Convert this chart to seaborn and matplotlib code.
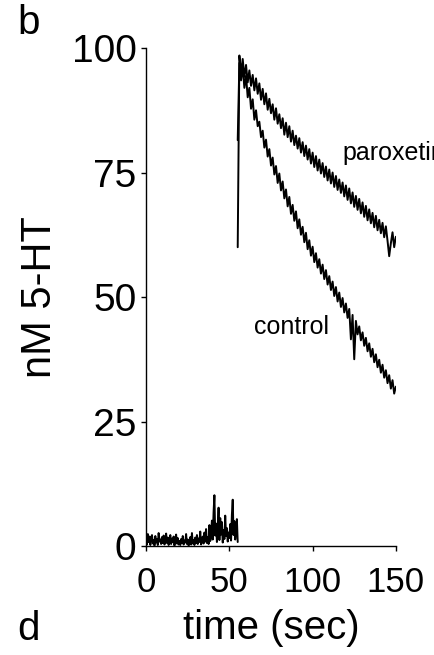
import numpy as np
import pandas as pd
import matplotlib
matplotlib.use("Agg")
import matplotlib.pyplot as plt
import seaborn as sns

# baseline recording before the 5-HT pulse, 0.5 s steps from 0 to 55 s
baseline_nm = [
    1.5, 0.3, 2.4, 0.8, 1.9, 0.2, 1.6, 2.2, 0.5, 1.2, 0.1, 2.0, 0.7, 1.4, 0.2, 2.6, 0.9, 1.3, 0.4, 1.8, 0.6,
    2.1, 0.3, 1.1, 2.5, 0.6, 1.7, 0.2, 1.0, 2.2, 0.4, 1.5, 0.8, 1.9, 0.1, 1.2, 2.3, 0.5, 1.6, 0.3, 1.0,
    0.2, 1.4, 0.6, 2.0, 0.3, 1.1, 0.7, 2.4, 0.4, 1.3, 0.1, 0.9, 1.8, 0.3, 2.6, 0.5, 1.2, 0.2, 1.7, 0.6,
    2.2, 0.4, 1.5, 0.8, 2.9, 0.3, 1.1, 1.9, 0.5, 2.7, 0.9, 3.4, 0.6, 1.8, 0.4, 4.2, 1.0, 2.5, 5.1, 1.3,
    6.8, 10.2, 2.1, 4.5, 0.8, 3.9, 7.7, 1.2, 5.6, 2.3, 4.8, 0.7, 3.2, 1.4, 6.1, 2.0, 3.6, 0.9, 2.7, 1.6,
    4.4, 1.1, 6.3, 9.3, 2.2, 5.0, 1.3, 3.1, 5.4, 0.8,
]

# clearance traces, 1 s steps from 55 to 150 s
paroxetine_nm = [
    60.0,
    98.5, 95.0, 97.8, 94.2, 96.6, 93.1, 95.5, 92.4, 94.6, 91.5,
    93.9, 90.8, 92.9, 89.6, 91.8, 88.7, 90.9, 87.6, 89.8, 86.9,
    88.7, 85.6, 87.9, 84.8, 86.7, 83.9, 85.9, 82.6, 85.0, 82.1,
    84.3, 81.2, 83.4, 80.5, 82.4, 79.8, 81.9, 79.0, 81.1, 78.3,
    80.4, 77.6, 79.7, 76.8, 79.0, 76.1, 78.3, 75.4, 77.6, 74.8,
    76.9, 74.1, 76.2, 73.4, 75.6, 72.8, 75.0, 72.1, 74.3, 71.5,
    73.6, 70.9, 73.0, 70.2, 72.4, 69.5, 71.8, 68.8, 71.0, 68.1,
    70.3, 67.5, 69.7, 66.8, 69.0, 66.1, 68.3, 65.4, 67.6, 64.8,
    66.9, 64.0, 66.3, 63.4, 65.5, 62.8, 64.9, 62.0, 64.2, 61.3,
    58.2, 60.8, 63.0, 60.0, 62.1,
]
control_nm = [
    81.5,
    97.0, 93.5, 96.2, 92.0, 94.4, 90.1, 92.0, 87.8, 89.7, 85.6,
    87.5, 84.3, 85.2, 82.1, 83.4, 80.0, 81.6, 78.2, 79.7, 76.4,
    78.0, 74.6, 76.3, 72.9, 74.8, 71.4, 73.2, 69.8, 71.6, 68.2,
    70.1, 66.7, 68.5, 65.3, 67.2, 63.8, 65.6, 62.5, 64.1, 61.0,
    62.9, 59.6, 61.4, 58.3, 60.1, 57.0, 58.8, 55.9, 57.6, 54.7,
    56.5, 53.6, 55.4, 52.5, 54.2, 51.4, 53.1, 50.2, 52.0, 49.1,
    50.9, 48.0, 49.8, 46.9, 48.7, 45.8, 47.6, 41.5, 46.4, 37.5,
    45.2, 42.5, 44.1, 41.3, 42.9, 40.2, 41.8, 39.1, 40.7, 38.0,
    39.6, 36.9, 38.5, 35.9, 37.4, 34.8, 36.4, 33.8, 35.3, 32.7,
    34.3, 31.6, 33.3, 30.6, 32.0,
]

base_t = np.arange(len(baseline_nm)) * 0.5
trace_t = 55 + np.arange(len(paroxetine_nm))

sns.set_style("ticks")
plt.rcParams['font.family'] = ['Liberation Sans', 'DejaVu Sans']
plt.rcParams['text.color'] = 'black'
plt.rcParams['axes.labelcolor'] = 'black'

fig = plt.figure(figsize=(4.35, 6.55), dpi=100)
ax = fig.add_axes([0.336, 0.1664, 0.574, 0.7603])

for t, y in [(base_t, baseline_nm), (trace_t, paroxetine_nm), (trace_t, control_nm)]:
    sns.lineplot(x=t, y=y, ax=ax, color='black', linewidth=1.4, estimator=None)

ax.set_xlim(0, 150)
ax.set_ylim(0, 100)
ax.set_xticks([0, 50, 100, 150])
ax.set_yticks([0, 25, 50, 75, 100])
sns.despine(ax=ax)
ax.spines['left'].set_linewidth(1.0)
ax.spines['bottom'].set_linewidth(1.0)
ax.spines['left'].set_color('black')
ax.spines['bottom'].set_color('black')
ax.tick_params(axis='y', labelsize=28, length=3.5, width=1.0, pad=3.5, colors='black')
ax.tick_params(axis='x', labelsize=25, length=3.5, width=1.0, pad=11, colors='black')

ax.set_xlabel("time (sec)", fontsize=29, labelpad=7)
ax.set_ylabel("nM 5-HT", fontsize=30, labelpad=8)

ax.text(118, 79, "paroxetine", fontsize=18, va='center', ha='left', clip_on=False)
ax.text(64.5, 44, "control", fontsize=18, va='center', ha='left')

fig.text(0.04, 0.965, "b", fontsize=29, va='center', ha='left')
fig.text(0.04, 0.04, "d", fontsize=29, va='center', ha='left')

fig.savefig("out.png", dpi=100)
